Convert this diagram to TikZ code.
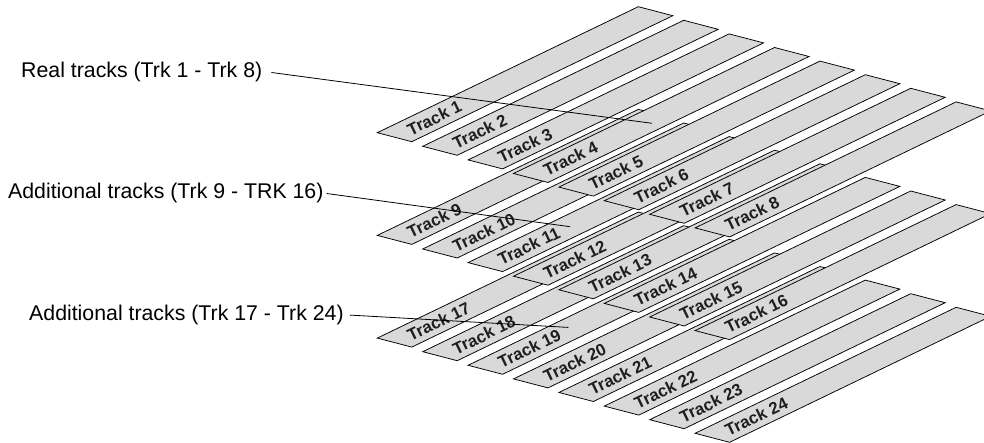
\documentclass[tikz,border=0pt]{standalone}
\usepackage{fontspec}
\setmainfont{Liberation Sans}
\definecolor{trackgray}{RGB}{217,217,217}
\tikzset{
  trackshape/.style={fill=trackgray, draw=black, line width=0.75pt, line join=miter},
  tracklbl/.style={font=\fontsize{16.8}{19}\selectfont\bfseries, text=black!88, inner sep=0pt, anchor=west, rotate=25.77},
  sidelbl/.style={font=\fontsize{21.3}{24}\selectfont, inner sep=0pt, anchor=base west},
  leader/.style={draw=black, line width=0.8pt}
}
\begin{document}
\begin{tikzpicture}[x=1pt,y=-1pt]
\useasboundingbox (0,0) rectangle (984,443);
\foreach \g in {2,1,0}{
  \foreach \k in {0,...,7}{
    \pgfmathtruncatemacro{\n}{8*\g+\k+1}
    \pgfmathsetmacro{\ax}{377.3+45.4*\k}
    \pgfmathsetmacro{\ay}{132.7+102.7*\g+13.6*\k}
    \pgfmathsetmacro{\lx}{\ax+30.8}
    \pgfmathsetmacro{\ly}{\ay-2.0}
    \draw[trackshape] (\ax,\ay) -- ++(261,-126) -- ++(34.5,9) -- ++(-261,126) -- cycle;
    \node[tracklbl] (trk\n) at (\lx,\ly) {Track \n};
  }
}
\node[sidelbl] (real) at (21,78) {Real tracks (Trk 1 - Trk 8)};
\node[sidelbl] (addA) at (8,199) {Additional tracks (Trk 9 - TRK 16)};
\node[sidelbl] (addB) at (29,320.6) {Additional tracks (Trk 17 - Trk 24)};
\coordinate (e1) at (652,123.3);
\coordinate (e2) at (570,226.7);
\coordinate (e3) at (568.3,327.4);
\draw[leader] ([xshift=9pt]real.east) -- (e1);
\draw[leader] ([xshift=3pt]addA.east) -- (e2);
\draw[leader] ([xshift=6pt]addB.east) -- (e3);
\end{tikzpicture}
\end{document}
